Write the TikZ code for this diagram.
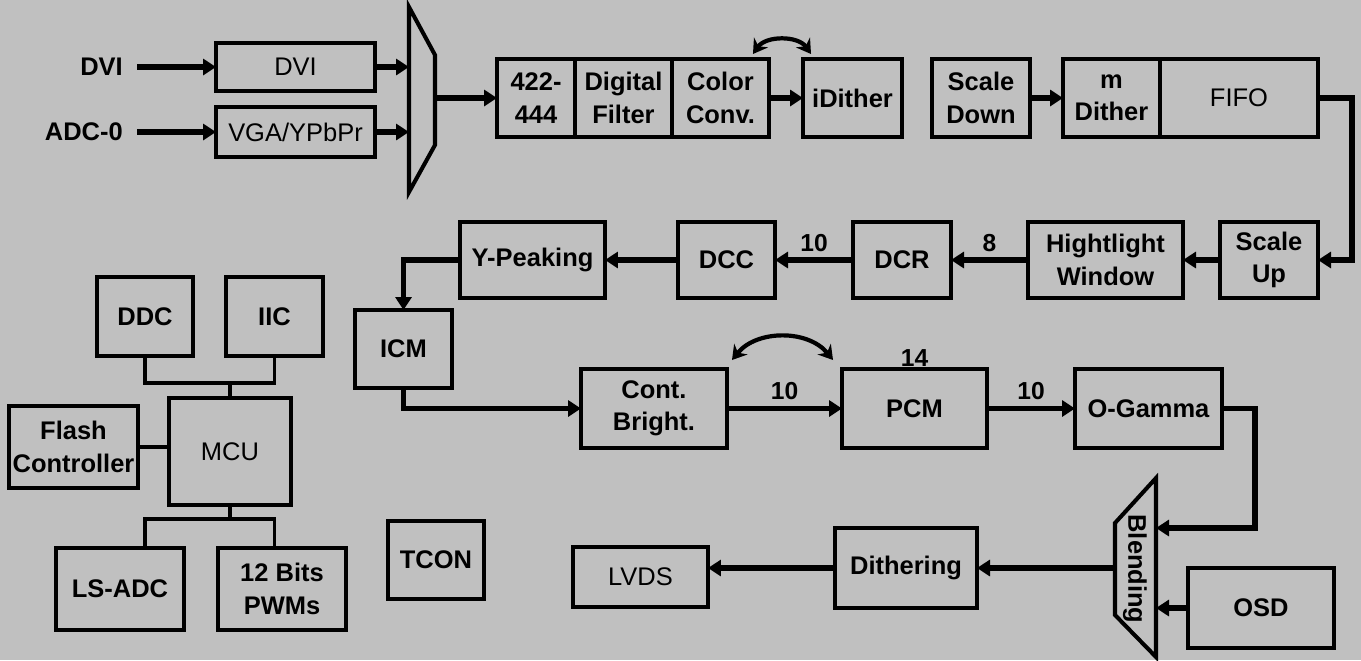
\documentclass[tikz,border=0pt]{standalone}
\usepackage{fontspec}
\setmainfont{Liberation Sans}
\usetikzlibrary{arrows.meta, positioning, calc}
\definecolor{fond}{RGB}{192,192,192}

\begin{document}
\begin{tikzpicture}[x=0.02cm, y=-0.02cm,
  every node/.style={font=\fontsize{14.5}{18.5}\selectfont},
  blk/.style={draw, line width=2.3pt, outer sep=0pt, inner sep=0pt, align=center,
    font=\fontsize{14.5}{18.5}\selectfont\bfseries},
  blkfin/.style={draw, line width=1.8pt, outer sep=0pt, inner sep=0pt, align=center},
  txt/.style={font=\fontsize{14.5}{18.5}\selectfont\bfseries},
  num/.style={font=\fontsize{14}{16}\selectfont\bfseries},
  fleche/.style={-{Triangle[length=2.6mm, width=3.2mm]}, line width=3pt},
  lien/.style={line width=2pt},
  courbe/.style={{Stealth[length=2.8mm, width=3.4mm]}-{Stealth[length=2.8mm, width=3.4mm]}, line width=2.4pt}]

% Fond
\fill[fond] (0,0) rectangle (1361,660);

% Entrées
\node[txt, anchor=east] (dvilbl) at (129,67) {DVI};
\node[txt, anchor=east] (adclbl) at (129,132) {ADC-0};
\node[blkfin, minimum width=3.18cm, minimum height=0.96cm] (dvi) at (295.5,67) {DVI};
\node[blkfin, minimum width=3.18cm, minimum height=1cm] (vga) at (295.5,132) {VGA/YPbPr};
\draw[fleche, shorten <=0.16cm] (dvilbl.east) -- (dvi.west);
\draw[fleche, shorten <=0.16cm] (adclbl.east) -- (vga.west);

% Multiplexeur
\coordinate (mx1) at (409,7);
\coordinate (mx2) at (435,55);
\coordinate (mx3) at (435,145);
\coordinate (mx4) at (409,192);
\draw[line width=2.3pt] (mx1) -- (mx2) -- (mx3) -- (mx4) -- cycle;
\draw[fleche] (dvi.east) -- (dvi.east -| mx1);
\draw[fleche] (vga.east) -- (vga.east -| mx1);

% Rangée du haut
\node[blk, minimum width=1.56cm, minimum height=1.56cm] (b422) at (536,98) {422-\\444};
\node[blk, minimum width=1.94cm, minimum height=1.56cm, right=0pt of b422] (dfilt) {Digital\\Filter};
\node[blk, minimum width=1.94cm, minimum height=1.56cm, right=0pt of dfilt] (cconv) {Color\\Conv.};
\node[blk, minimum width=1.98cm, minimum height=1.56cm] (idith) at (852.5,98) {iDither};
\draw[fleche] (b422.west -| mx2) -- (b422.west);
\draw[fleche] (cconv) -- (idith);
\draw[courbe] ($(cconv.north east)+(-16,-5)$) to[bend left=55] ($(idith.north west)+(8,-5)$);

\node[blk, minimum width=1.96cm, minimum height=1.56cm] (sdown) at (981,98) {Scale\\Down};
\node[blk, minimum width=1.94cm, minimum height=1.56cm] (mdith) at (1111.5,98) {m\\Dither};
\node[blkfin, minimum width=3.16cm, minimum height=1.56cm, right=0pt of mdith] (fifo) {FIFO};
\draw[fleche] (sdown) -- (mdith);

% Deuxième rangée (vers la gauche)
\node[blk, minimum width=1.96cm, minimum height=1.52cm] (sup) at (1269,260) {Scale\\Up};
\node[blk, minimum width=3.1cm, minimum height=1.52cm] (hwin) at (1105.5,260) {Hightlight\\Window};
\node[blk, minimum width=1.96cm, minimum height=1.52cm] (dcr) at (902,260) {DCR};
\node[blk, minimum width=1.94cm, minimum height=1.52cm] (dcc) at (726.5,260) {DCC};
\node[blk, minimum width=2.9cm, minimum height=1.52cm] (ypeak) at (532.5,260) {Y-Peaking};
\draw[fleche] (fifo.east) -- ++(34,0) |- (sup.east);
\draw[fleche] (sup) -- (hwin);
\draw[fleche] (hwin) -- node[num, above] (bits8) {8} (dcr);
\draw[fleche] (dcr) -- node[num, above] (bits10a) {10} (dcc);
\draw[fleche] (dcc) -- (ypeak);

% Troisième rangée
\node[blk, minimum width=1.94cm, minimum height=1.56cm] (icm) at (403.5,349) {ICM};
\node[blk, minimum width=2.92cm, minimum height=1.58cm] (cont) at (654,408.5) {Cont.\\Bright.};
\node[blk, minimum width=2.9cm, minimum height=1.58cm] (pcm) at (914.5,408.5) {PCM};
\node[blk, minimum width=2.94cm, minimum height=1.58cm] (ogam) at (1148.5,408.5) {O-Gamma};
\node[num, above, inner sep=1pt] (bits14) at (pcm.north) {14};
\draw[fleche] (ypeak.west) -| (icm.north);
\draw[fleche] (icm.south) |- (cont.west);
\draw[fleche] (cont) -- node[num, above] (bits10b) {10} (pcm);
\draw[fleche] (pcm) -- node[num, above] (bits10c) {10} (ogam);
\draw[courbe] ($(cont.north east)+(5,-9)$) to[bend left=51] ($(pcm.north west)+(-9,-9)$);

% Mélange et sortie
\coordinate (bl1) at (1156,478);
\coordinate (bl2) at (1115,523);
\coordinate (bl3) at (1115,615);
\coordinate (bl4) at (1156,657);
\coordinate (blin) at (1156,528);
\draw[line width=2.3pt] (bl1) -- (bl2) -- (bl3) -- (bl4) -- cycle;
\node[txt, rotate=-90] (blend) at (1135,569) {Blending};
\node[blk, minimum width=2.92cm, minimum height=1.6cm] (osd) at (1261,608) {OSD};
\node[blk, minimum width=2.84cm, minimum height=1.6cm] (dith) at (906,568) {Dithering};
\node[blkfin, minimum width=2.7cm, minimum height=1.2cm] (lvds) at (640.5,577) {LVDS};
\draw[fleche] (ogam.east) -- ++(33,0) |- (blin);
\draw[fleche] (osd.west) -- (osd.west -| bl1);
\draw[fleche] (dith.east -| bl2) -- (dith.east);
\draw[fleche] (dith.west) -- (dith.west -| lvds.east);

% Microcontrôleur
\node[blk, minimum width=1.92cm, minimum height=1.58cm] (ddc) at (145,316.5) {DDC};
\node[blk, minimum width=1.94cm, minimum height=1.58cm] (iic) at (274.5,316.5) {IIC};
\node[blkfin, minimum width=2.44cm, minimum height=2.14cm] (mcu) at (230,451.5) {MCU};
\node[blk, minimum width=2.58cm, minimum height=1.64cm] (flash) at (73.5,447) {Flash\\Controller};
\node[blk, minimum width=2.56cm, minimum height=1.64cm] (lsadc) at (120,589) {LS-ADC};
\node[blk, minimum width=2.56cm, minimum height=1.64cm] (pwm) at (282,589) {12 Bits\\PWMs};
\node[blk, minimum width=1.92cm, minimum height=1.56cm] (tcon) at (436,560) {TCON};
\coordinate (bushaut) at (230,383);
\coordinate (busbas) at (230,519);
\draw[lien] (ddc.south) |- (bushaut) -| (iic.south);
\draw[lien] (bushaut) -- (mcu.north);
\draw[lien] (flash.east) -- (flash.east -| mcu.west);
\draw[lien] (mcu.south) -- (busbas);
\draw[lien] (lsadc.north -| ddc.south) |- (busbas) -| (pwm.north -| iic.south);

\end{tikzpicture}
\end{document}
